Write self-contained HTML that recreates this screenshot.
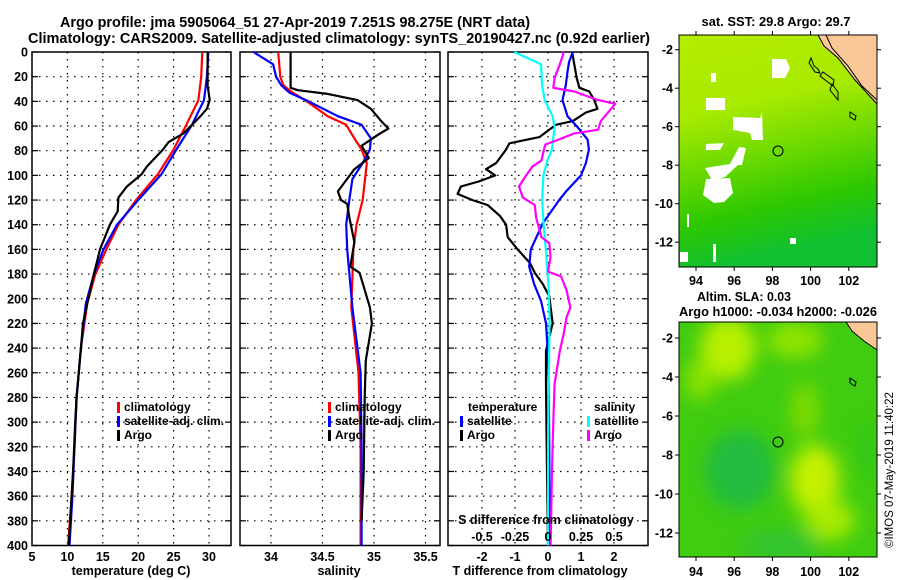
<!DOCTYPE html>
<html><head><meta charset="utf-8">
<style>
html,body{margin:0;padding:0;background:#fff;}
svg{display:block;font-family:"Liberation Sans",sans-serif;font-weight:bold;}
</style></head>
<body>
<svg id="fig" width="900" height="580" viewBox="0 0 900 580" xmlns="http://www.w3.org/2000/svg">
<defs>
<linearGradient id="sstg" x1="0" y1="0" x2="0.2" y2="1">
<stop offset="0" stop-color="#b4ec00"/><stop offset="0.35" stop-color="#a8ea00"/><stop offset="0.6" stop-color="#66d800"/><stop offset="0.8" stop-color="#2ec800"/><stop offset="1" stop-color="#10c030"/></linearGradient>
<filter id="blur"><feGaussianBlur stdDeviation="9"/></filter>
</defs>
<text x="295" y="27" text-anchor="middle" font-size="14.5" textLength="470" lengthAdjust="spacingAndGlyphs">Argo profile: jma 5905064_51 27-Apr-2019 7.251S 98.275E (NRT data)</text>
<text x="339" y="43" text-anchor="middle" font-size="14.5" textLength="622" lengthAdjust="spacingAndGlyphs">Climatology: CARS2009. Satellite-adjusted climatology: synTS_20190427.nc (0.92d earlier)</text>
<g id="plots"></g>
<g id="maps">
 <text x="776" y="26" text-anchor="middle" font-size="13" textLength="149" lengthAdjust="spacingAndGlyphs">sat. SST: 29.8 Argo: 29.7</text>
 <g>
  <rect x="679" y="35" width="198" height="232" fill="url(#sstg)"/>
  <g fill="#fff">
   <polygon points="772,59 786,59 790,68 785,78 772,78"/>
   <polygon points="711,73 716,73 716,82 711,82"/>
   <polygon points="706,98 725,98 725,110 706,110"/>
   <polygon points="733,117 760,118 762,112 763,140 752,140 750,133 733,130"/>
   <polygon points="706,144 724,143 720,150 706,150"/>
   <polygon points="739,147 746,148 742,165 738,165 725,177 712,180 705,168 730,164"/>
   <polygon points="706,179 730,178 733,193 724,202 714,203 703,195"/>
   <polygon points="687,214 689,214 689,227 687,227"/>
   <polygon points="680,252 688,252 688,262 680,262"/>
   <polygon points="713,244 716,244 716,262 713,262"/>
   <polygon points="790,238 796,238 796,244 790,244"/>
  </g>
  <polygon points="818,35 822,46 838,58 854,79 877,104 877,35" fill="#fac896"/>
  <polyline points="818,35 824,46 838,58 855,80 877,104" fill="none" stroke="#000" stroke-width="1"/>
  <polyline points="826,35 832,48 848,66 862,86 877,100" fill="none" stroke="#000" stroke-width="1"/>
  <polygon points="811,58 814,66 818,69 820,73 815,72 809,63" fill="none" stroke="#000"/>
  <polygon points="823,72 834,80 833,86 820,76" fill="none" stroke="#000"/>
  <polygon points="832,84 838,92 838,100 830,90" fill="none" stroke="#000"/>
  <polygon points="850,112 856,116 855,120 850,117" fill="none" stroke="#000"/>
  <circle cx="778" cy="151" r="5" fill="none" stroke="#000"/>
  <rect x="679" y="35" width="198" height="232" fill="none" stroke="#000"/>
 </g>
 <text x="697" y="301" font-size="13" textLength="94" lengthAdjust="spacingAndGlyphs">Altim. SLA: 0.03</text>
 <text x="679" y="316" font-size="13" textLength="198" lengthAdjust="spacingAndGlyphs">Argo h1000: -0.034 h2000: -0.026</text>
 <g>
  <clipPath id="c2"><rect x="679" y="322" width="198" height="235"/></clipPath>
  <rect x="679" y="322" width="198" height="235" fill="#40cc10"/>
  <g clip-path="url(#c2)" filter="url(#blur)">
   <ellipse cx="728" cy="348" rx="28" ry="32" fill="#b8f000"/>
   <ellipse cx="795" cy="340" rx="28" ry="18" fill="#90e400"/>
   <ellipse cx="700" cy="380" rx="15" ry="20" fill="#8ce200"/>
   <ellipse cx="805" cy="410" rx="14" ry="28" fill="#7edc00"/>
   <ellipse cx="815" cy="480" rx="25" ry="35" fill="#c4f000"/>
   <ellipse cx="830" cy="520" rx="25" ry="20" fill="#a8ea00"/>
   <ellipse cx="870" cy="450" rx="12" ry="30" fill="#30c818"/>
   <ellipse cx="740" cy="470" rx="35" ry="40" fill="#20bc40"/>
   <ellipse cx="780" cy="545" rx="40" ry="15" fill="#30c430"/>
  </g>
  <polygon points="846,322 850,330 862,340 877,350 877,322" fill="#fac896"/>
  <polyline points="846,322 852,331 864,341 877,350" fill="none" stroke="#000"/>
  <polygon points="850,378 856,382 855,386 850,383" fill="none" stroke="#000"/>
  <circle cx="778" cy="442" r="5" fill="none" stroke="#000"/>
  <rect x="679" y="322" width="198" height="235" fill="none" stroke="#000"/>
 </g>
 <text transform="translate(893,548) rotate(-90)" font-size="11.5" font-weight="normal">©IMOS 07-May-2019 11:40:22</text>
</g>
</svg>
<script>
// ---------- data ----------
const depthTicks = [0,20,40,60,80,100,120,140,160,180,200,220,240,260,280,300,320,340,360,380,400];
const tempTicks = [5,10,15,20,25,30];
const salTicks = [34,34.5,35,35.5];
const salTickLabels = ["34","34.5","35","35.5"];
const dTTicks = [-2,-1,0,1,2];
const dSTicks = [-0.5,-0.25,0,0.25,0.5];
const dSTickLabels = ["-0.5","-0.25","0","0.25","0.5"];

const climTDepth = [0,20,39,59,79,99,120,140,160,181,204,240,280,320,360,400];
const climT = [29.05,28.9,28.5,26.8,25.0,22.8,19.7,17.2,15.5,13.9,12.8,11.9,11.3,11.0,10.6,10.1];
const satTDepth = [0,20,39,59,79,99,120,140,160,181,204,240,280,320,360,400];
const satT = [29.9,29.7,29.3,27.6,25.4,23.3,20.0,17.0,15.1,13.7,12.6,11.9,11.3,11.0,10.7,10.3];
const argoTDepth = [0,27,39,46,52,66,73,79,93,99,109,118,129,140,160,181,204,220,240,280,300,340,400];
const argoT = [29.8,29.8,30.1,29.7,28.8,26.4,24.3,23.5,21.2,20.5,18.4,17.2,17.1,16.0,14.6,13.7,12.8,12.2,11.9,11.3,11.1,10.8,10.2];

const climSDepth = [0,20,27,33,39,52,59,70,79,90,120,140,160,207,260,320,400];
const climS = [34.07,34.09,34.12,34.21,34.33,34.55,34.73,34.81,34.88,34.93,34.89,34.83,34.80,34.78,34.85,34.87,34.87];
const satSDepth = [0,10,20,27,33,39,52,59,70,79,90,103,120,140,160,207,260,320,400];
const satS = [33.83,34.02,34.05,34.10,34.18,34.34,34.65,34.88,34.97,34.96,34.89,34.79,34.76,34.73,34.74,34.79,34.87,34.88,34.88];
const argoSDepth = [0,29,31,34,39,46,56,62,67,76,86,95,105,113,120,123,134,154,174,179,207,220,250,280,340,380];
const argoS = [34.19,34.19,34.26,34.55,34.84,34.97,35.07,35.14,35.04,34.88,34.95,34.81,34.72,34.65,34.68,34.74,34.76,34.81,34.77,34.86,34.96,34.98,34.92,34.91,34.90,34.88];

const argoDTDepth = [0,21,29,32,39,46,49,56,59,69,74,79,90,95,100,105,109,115,120,124,133,140,150,160,171,179,188,198,220,242,269,300,340,400];
const argoDT = [0.73,0.87,0.95,1.25,1.4,1.5,1.15,0.75,0.24,-0.26,-1.17,-1.27,-1.57,-1.88,-1.6,-2.1,-2.64,-2.74,-2.3,-1.83,-1.45,-1.27,-1.22,-0.92,-0.55,-0.4,-0.16,0.04,0.14,-0.06,-0.06,-0.05,-0.03,0.0];
const satDTDepth = [0,8,16,27,39,52,61,71,79,90,100,113,120,139,160,174,188,202,220,242,269,320,400];
const satDT = [0.75,0.64,0.59,0.54,0.44,0.59,0.9,1.2,1.24,1.15,1.0,0.55,0.34,-0.16,-0.52,-0.57,-0.42,-0.21,-0.06,-0.01,0.02,0.04,0.05];
const satDSDepth = [0,10,27,39,52,61,69,79,88,100,120,140,160,188,215,269,320,400];
const satDS = [-0.255,-0.053,-0.045,-0.025,0.035,0.05,0.04,0.03,-0.005,-0.035,-0.045,-0.033,-0.017,0.003,0.012,0.005,0.0,0.0];
const argoDSDepth = [0,10,21,29,32,39,42,56,63,66,71,75,79,88,93,104,109,118,124,134,150,155,166,178,182,193,207,215,228,242,269,300,340,400];
const argoDS = [0.12,0.09,0.05,0.04,0.2,0.38,0.51,0.4,0.38,0.2,0.08,-0.02,-0.03,-0.05,-0.12,-0.19,-0.22,-0.19,-0.1,-0.09,-0.05,0.01,0.02,0.0,0.1,0.14,0.17,0.14,0.12,0.09,0.05,0.04,0.03,0.02];

// ---------- layout ----------
const Y0 = 52, Y1 = 545.5;
function yScale(d){ return Y0 + (d-0)/(400-0)*(Y1-Y0); }
const P1 = {x0:32, x1:231, v0:5, v1:5+199/7.08};
const P2 = {x0:240, x1:440, v0:34-31/103, v1:34-31/103+200/103};
const P3 = {x0:448, x1:648, v0:-100/33, v1:100/33};
function xs(p,v){ return p.x0 + (v-p.v0)/(p.v1-p.v0)*(p.x1-p.x0); }
const NS = "http://www.w3.org/2000/svg";
const root = document.getElementById('plots');
function mk(tag, attrs, parent){ const e=document.createElementNS(NS,tag); for(const k in attrs) e.setAttribute(k,attrs[k]); (parent||root).appendChild(e); return e; }

function panel(p, name){
  const g = mk('g',{});
  
  
  return g;
}
function frame(p, g, xt, vmap){
  depthTicks.forEach(d=>{
    const y=yScale(d);
    if(d>0 && d<400){
      mk('line',{x1:p.x0,x2:p.x1,y1:y,y2:y,stroke:'#000','stroke-width':1.2,'stroke-dasharray':'1.5,5.5'},g);
    }
    mk('line',{x1:p.x0,x2:p.x0+6,y1:y,y2:y,stroke:'#000','stroke-width':1.2},g);
    mk('line',{x1:p.x1-6,x2:p.x1,y1:y,y2:y,stroke:'#000','stroke-width':1.2},g);
  });
  xt.forEach(v=>{
    const x=vmap(v);
    mk('line',{x1:x,x2:x,y1:Y0,y2:Y1,stroke:'#000','stroke-width':1.2,'stroke-dasharray':'1.5,5.5'},g);
  });
  mk('rect',{x:p.x0,y:Y0,width:p.x1-p.x0,height:Y1-Y0,fill:'none',stroke:'#000','stroke-width':1.5},g);
}
function line(p, g, vals, depths, color, name, vmap){
  const pts = vals.map((v,i)=> vmap(v).toFixed(1)+','+yScale(depths[i]).toFixed(1)).join(' ');
  const pl = mk('polyline',{points:pts,fill:'none',stroke:color,'stroke-width':2.2,'stroke-linejoin':'round'},g);
  
  
}
function txt(x,y,s,anchor,size,g,name){
  const t=mk('text',{x:x,y:y,'text-anchor':anchor||'start','font-size':size||12},g);
  t.textContent=s;
  
  
  return t;
}
function legend(g, x, y, color, label, name){
  mk('rect',{x:x,y:y-9,width:3,height:11,fill:color},g);
  txt(x+7,y,label,'start',12,g,name);
}

// depth labels
const gy = mk('g',{});


depthTicks.forEach(d=>{ txt(28,yScale(d)+4.5,String(d),'end',12.5,gy,'depth-tick-label'); });

// panel 1
const g1 = panel(P1,'temperature-panel');
const m1 = v=>xs(P1,v);
frame(P1,g1,tempTicks,m1);
line(P1,g1,climT,climTDepth,'#f00','climatology-temperature-line',m1);
line(P1,g1,satT,satTDepth,'#00f','satellite-temperature-line',m1);
line(P1,g1,argoT,argoTDepth,'#000','argo-temperature-line',m1);
tempTicks.forEach(v=>txt(m1(v),561,String(v),'middle',12.5,g1,'temperature-tick-label'));
txt(131,575,'temperature (deg C)','middle',12.5,g1,'temperature-axis-title');
legend(g1,117,411,'#f00','climatology','legend-climatology');
legend(g1,117,425,'#00f','satellite-adj. clim.','legend-satellite-adj');
legend(g1,117,439,'#000','Argo','legend-argo');

// panel 2
const g2 = panel(P2,'salinity-panel');
const m2 = v=>xs(P2,v);
frame(P2,g2,salTicks,m2);
line(P2,g2,climS,climSDepth,'#f00','climatology-salinity-line',m2);
line(P2,g2,satS,satSDepth,'#00f','satellite-salinity-line',m2);
line(P2,g2,argoS,argoSDepth,'#000','argo-salinity-line',m2);
salTicks.forEach((v,i)=>txt(m2(v),561,salTickLabels[i],'middle',12.5,g2,'salinity-tick-label'));
txt(339,575,'salinity','middle',12.5,g2,'salinity-axis-title');
legend(g2,328,411,'#f00','climatology','legend-climatology');
legend(g2,328,425,'#00f','satellite-adj. clim.','legend-satellite-adj');
legend(g2,328,439,'#000','Argo','legend-argo');

// panel 3
const g3 = panel(P3,'difference-panel');
const m3 = v=>xs(P3,v);
const m3s = v=>xs(P3,v*4);
frame(P3,g3,dTTicks,m3);
line(P3,g3,argoDT,argoDTDepth,'#000','argo-temperature-diff-line',m3);
line(P3,g3,satDT,satDTDepth,'#00f','satellite-temperature-diff-line',m3);
line(P3,g3,satDS,satDSDepth,'#0ff','satellite-salinity-diff-line',m3s);
line(P3,g3,argoDS,argoDSDepth,'#f0f','argo-salinity-diff-line',m3s);
dTTicks.forEach(v=>txt(m3(v),561,String(v),'middle',12.5,g3,'t-diff-tick-label'));
dSTicks.forEach((v,i)=>txt(m3s(v),541,dSTickLabels[i],'middle',12.5,g3,'s-diff-tick-label'));
txt(546,524,'S difference from climatology','middle',12.5,g3,'s-diff-axis-title');
txt(540,575,'T difference from climatology','middle',12.5,g3,'t-diff-axis-title');
txt(468,411,'temperature','start',12,g3,'legend-temperature-heading');
legend(g3,460,425,'#00f','satellite','legend-t-satellite');
legend(g3,460,439,'#000','Argo','legend-t-argo');
txt(594,411,'salinity','start',12,g3,'legend-salinity-heading');
legend(g3,587,425,'#0ff','satellite','legend-s-satellite');
legend(g3,587,439,'#f0f','Argo','legend-s-argo');

// map ticks
const mapG = document.getElementById('maps');
const lonTicks=[94,96,98,100,102];
const latTicks=[-2,-4,-6,-8,-10,-12];
function lonX(l){ return 696 + (l-94)*19.1; }
function latY1(l){ return 49.7 + (-2-l)*19.25; }
function latY2(l){ return 338 + (-2-l)*19.5; }
lonTicks.forEach(l=>{
  const x=lonX(l);
  mk('line',{x1:x,x2:x,y1:31,y2:35,stroke:'#000'},mapG);
  mk('line',{x1:x,x2:x,y1:267,y2:271,stroke:'#000'},mapG);
  mk('line',{x1:x,x2:x,y1:557,y2:561,stroke:'#000'},mapG);
  txt(x,285,String(l),'middle',12.5,mapG,'sst-lon-tick-label');
  txt(x,576,String(l),'middle',12.5,mapG,'sla-lon-tick-label');
});
latTicks.forEach(l=>{
  const y1=latY1(l), y2=latY2(l);
  mk('line',{x1:675,x2:679,y1:y1,y2:y1,stroke:'#000'},mapG);
  mk('line',{x1:877,x2:881,y1:y1,y2:y1,stroke:'#000'},mapG);
  mk('line',{x1:675,x2:679,y1:y2,y2:y2,stroke:'#000'},mapG);
  mk('line',{x1:877,x2:881,y1:y2,y2:y2,stroke:'#000'},mapG);
  txt(673,y1+4.5,String(l),'end',12.5,mapG,'sst-lat-tick-label');
  txt(673,y2+4.5,String(l),'end',12.5,mapG,'sla-lat-tick-label');
});
</script>
</body></html>
